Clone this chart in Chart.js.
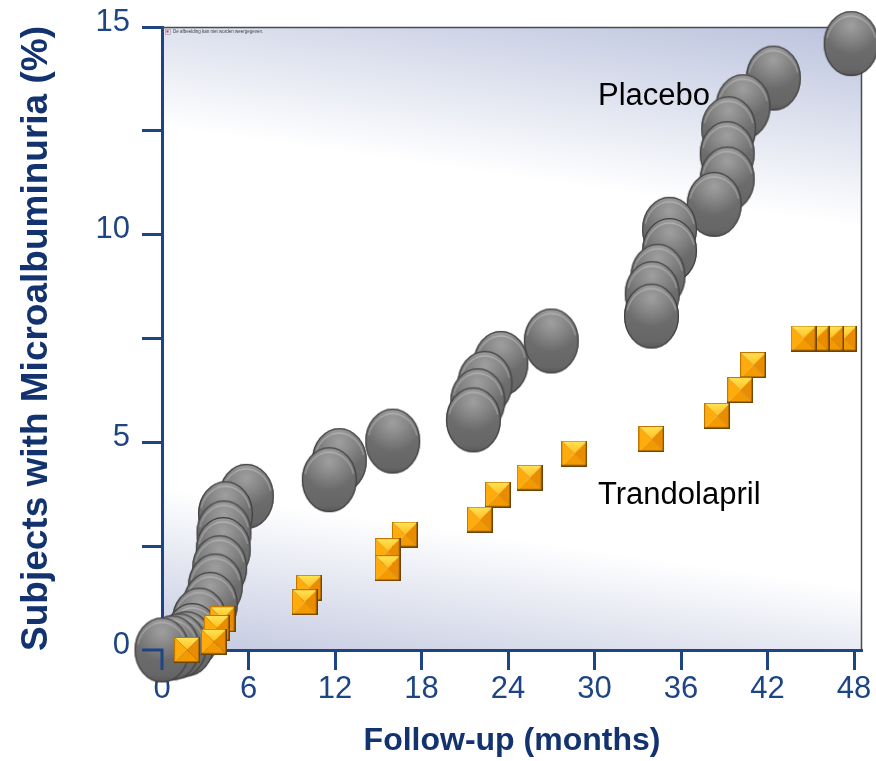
<!DOCTYPE html>
<html><head><meta charset="utf-8">
<script src="https://cdn.jsdelivr.net/npm/chart.js@4.4.0/dist/chart.umd.min.js"></script>
<style>html,body{margin:0;padding:0;background:#fff;}canvas{display:block}</style>
</head><body>
<canvas id="c" width="876" height="761"></canvas>
<script>
// ---- data ----
const xTicks = [0, 6, 12, 18, 24, 30, 36, 42, 48];
const yTicks = [0, 2.5, 5, 7.5, 10, 12.5, 15];
const yTickLabels = ['0', '', '5', '', '10', '', '15'];

const placeboX = [0, 0.7, 1.2, 1.7, 2.1, 2.6, 3.35, 3.7, 4.0, 4.25, 4.3, 4.4, 5.85, 11.6, 12.3, 16.0, 21.6, 21.9, 22.4, 23.5, 27.0, 33.95, 34.0, 34.4, 35.2, 35.2, 38.3, 39.2, 39.2, 39.3, 40.3, 42.4, 47.8];
const placeboY = [0, 0.05, 0.1, 0.15, 0.35, 0.72, 1.1, 1.54, 1.98, 2.42, 2.82, 3.28, 3.7, 4.1, 4.56, 5.03, 5.54, 6.0, 6.42, 6.9, 7.44, 8.04, 8.58, 9.0, 9.62, 10.13, 10.73, 11.34, 11.95, 12.55, 13.08, 13.77, 14.6];

const trandoX = [1.74, 3.6, 3.8, 4.2, 9.9, 10.2, 15.65, 15.65, 16.85, 22.05, 23.3, 25.5, 28.6, 33.95, 38.5, 40.1, 41.0, 44.5, 45.4, 46.4, 47.3];
const trandoY = [0, 0.2, 0.53, 0.74, 1.15, 1.5, 1.97, 2.38, 2.78, 3.14, 3.74, 4.15, 4.73, 5.08, 5.64, 6.26, 6.86, 7.5, 7.5, 7.5, 7.5];

const seriesNames = ['Placebo', 'Trandolapril'];
const seriesLabelX = [30.24, 30.24];
const seriesLabelY = [13.12, 3.52];

const xTitle = 'Follow-up (months)';
const yTitle = 'Subjects with Microalbuminuria (%)';
const brokenImageText = 'De afbeelding kan niet worden weergegeven.';

// ---- styles ----
const FONT = '"Liberation Sans", Arial, sans-serif';
const AX = '#1d4585';
const TITLE = '#12336f';

function makeBall(w, h) {
  const c = document.createElement('canvas');
  c.width = w + 2; c.height = h + 2;
  const g = c.getContext('2d');
  const cx = c.width / 2, cy = c.height / 2, rx = w / 2, ry = h / 2;
  g.beginPath(); g.ellipse(cx, cy, rx, ry, 0, 0, Math.PI * 2);
  const lg = g.createLinearGradient(0, cy - ry, 0, cy + ry);
  lg.addColorStop(0, '#8e8e8e'); lg.addColorStop(0.12, '#777');
  lg.addColorStop(0.5, '#6d6d6d'); lg.addColorStop(0.9, '#666'); lg.addColorStop(1, '#575757');
  g.fillStyle = lg; g.fill();
  const rg = g.createRadialGradient(cx, cy - ry * 0.55, 1, cx, cy - ry * 0.45, rx * 0.95);
  rg.addColorStop(0, 'rgba(255,255,255,0.30)'); rg.addColorStop(1, 'rgba(255,255,255,0)');
  g.beginPath(); g.ellipse(cx, cy, rx, ry, 0, 0, Math.PI * 2); g.fillStyle = rg; g.fill();
  g.beginPath(); g.ellipse(cx, cy + 1.5, rx - 2.5, ry - 3.5, 0, Math.PI * 1.08, Math.PI * 1.92);
  g.strokeStyle = 'rgba(255,255,255,0.25)'; g.lineWidth = 1.5; g.stroke();
  g.beginPath(); g.ellipse(cx, cy, rx - 0.6, ry - 0.6, 0, 0, Math.PI * 2);
  g.strokeStyle = '#3e3e3e'; g.lineWidth = 1.2; g.stroke();
  return c;
}
function makeBox(s) {
  const c = document.createElement('canvas');
  c.width = s; c.height = s;
  const g = c.getContext('2d');
  const m = s / 2;
  const tri = (a, b, col) => { g.beginPath(); g.moveTo(a[0], a[1]); g.lineTo(b[0], b[1]); g.lineTo(m, m); g.closePath(); g.fillStyle = col; g.fill(); };
  const top = g.createLinearGradient(0, 0, 0, m); top.addColorStop(0, '#ffe55a'); top.addColorStop(1, '#ffbf1c');
  tri([0, 0], [s, 0], top);
  tri([0, 0], [0, s], '#ffab0c');
  tri([s, 0], [s, s], '#ea8c00');
  tri([0, s], [s, s], '#f39a00');
  g.strokeStyle = 'rgba(150,90,0,0.5)'; g.lineWidth = 0.6;
  g.beginPath(); g.moveTo(0, 0); g.lineTo(s, s); g.stroke();
  g.strokeStyle = '#c07800'; g.lineWidth = 1;
  g.strokeRect(0.5, 0.5, s - 1, s - 1);
  g.strokeStyle = '#6e4300'; g.lineWidth = 1.5;
  g.beginPath(); g.moveTo(s - 0.75, 0); g.lineTo(s - 0.75, s - 0.75); g.lineTo(0, s - 0.75); g.stroke();
  return c;
}
const ball = makeBall(55, 65);
const box = makeBox(26);

const toPts = (xs, ys) => xs.map((x, i) => ({ x: x, y: ys[i] })).reverse();

const decor = {
  id: 'decor',
  beforeDraw(chart) {
    const { ctx, chartArea: a } = chart;
    ctx.save();
    ctx.fillStyle = '#fff'; ctx.fillRect(0, 0, chart.width, chart.height);
    const cx = (a.left + a.right) / 2, cy = (a.top + a.bottom) / 2, L = 380;
    const dx = 0.142, dy = -0.99;
    const gr = ctx.createLinearGradient(cx + dx * L, cy + dy * L, cx - dx * L, cy - dy * L);
    gr.addColorStop(0, '#b3bcd9');
    gr.addColorStop(0.29, '#ffffff');
    gr.addColorStop(0.76, '#ffffff');
    gr.addColorStop(1, '#bac1db');
    ctx.fillStyle = gr;
    ctx.fillRect(a.left, a.top, a.right - a.left, a.bottom - a.top);
    ctx.restore();
  },
  beforeDatasetsDraw(chart) {
    const { ctx, chartArea: a } = chart;
    ctx.save();
    ctx.strokeStyle = '#4a4a52'; ctx.lineWidth = 1.5;
    ctx.beginPath(); ctx.moveTo(a.left, a.top + 0.5); ctx.lineTo(a.right - 0.5, a.top + 0.5); ctx.lineTo(a.right - 0.5, a.bottom); ctx.stroke();
    ctx.strokeStyle = '#999'; ctx.lineWidth = 0.6;
    ctx.strokeRect(a.left + 3.5, a.top + 2.5, 5, 5);
    ctx.fillStyle = '#d33'; ctx.fillRect(a.left + 4.5, a.top + 3.5, 2, 2);
    ctx.fillStyle = '#444'; ctx.font = '4.5px ' + FONT; ctx.textBaseline = 'middle'; ctx.textAlign = 'left';
    ctx.fillText(brokenImageText, a.left + 11, a.top + 5);
    ctx.restore();
  },
  afterDatasetsDraw(chart) {
    const { ctx, scales } = chart;
    const x0 = scales.x.getPixelForValue(xTicks[0]);
    const y0 = scales.y.getPixelForValue(yTicks[0]);
    ctx.save();
    ctx.strokeStyle = AX; ctx.lineWidth = 3;
    ctx.beginPath(); ctx.moveTo(x0 - 20, y0); ctx.lineTo(x0, y0); ctx.lineTo(x0, y0 + 20); ctx.stroke();
    ctx.fillStyle = '#000'; ctx.font = '31px ' + FONT; ctx.textAlign = 'left'; ctx.textBaseline = 'alphabetic';
    seriesNames.forEach((n, i) => {
      ctx.fillText(n, scales.x.getPixelForValue(seriesLabelX[i]), scales.y.getPixelForValue(seriesLabelY[i]));
    });
    ctx.restore();
  }
};

new Chart(document.getElementById('c'), {
  type: 'scatter',
  data: {
    datasets: [
      { label: seriesNames[1], data: toPts(trandoX, trandoY), pointStyle: box, pointRadius: 13, order: 0, clip: false },
      { label: seriesNames[0], data: toPts(placeboX, placeboY), pointStyle: ball, pointRadius: 28, order: 1, clip: false }
    ]
  },
  options: {
    responsive: false, animation: false, devicePixelRatio: 1,
    layout: { autoPadding: false, padding: { top: 27, right: 14, left: 0, bottom: 0 } },
    plugins: { legend: { display: false }, tooltip: { enabled: false } },
    scales: {
      x: {
        type: 'linear', min: 0, max: 48.55,
        afterBuildTicks: s => { s.ticks = xTicks.map(v => ({ value: v })); },
        afterFit: s => { s.height = 111; s.paddingLeft = 0; s.paddingRight = 0; },
        grid: { drawOnChartArea: false, drawTicks: true, tickLength: 20, tickWidth: 3, tickColor: AX },
        border: { display: true, color: AX, width: 3 },
        ticks: { font: { family: FONT, size: 31 }, color: AX, padding: 1, maxRotation: 0, autoSkip: false, callback: v => String(v) },
        title: { display: true, text: xTitle, color: TITLE, font: { family: FONT, size: 32, weight: 'bold', lineHeight: 1 }, padding: { top: 0, bottom: 4 } }
      },
      y: {
        type: 'linear', min: 0, max: 15,
        afterBuildTicks: s => { s.ticks = yTicks.map(v => ({ value: v })); },
        afterFit: s => { s.width = 162; s.paddingTop = 0; s.paddingBottom = 0; },
        grid: { drawOnChartArea: false, drawTicks: true, tickLength: 20, tickWidth: 3, tickColor: AX },
        border: { display: true, color: AX, width: 3 },
        ticks: { font: { family: FONT, size: 31 }, color: AX, padding: 12, labelOffset: -5, autoSkip: false,
                  callback: v => yTickLabels[yTicks.indexOf(v)] },
        title: { display: true, text: yTitle, color: TITLE, font: { family: FONT, size: 37, weight: 'bold', lineHeight: 1 }, padding: { top: 18, bottom: 0 } }
      }
    }
  },
  plugins: [decor]
});
</script>
</body></html>
